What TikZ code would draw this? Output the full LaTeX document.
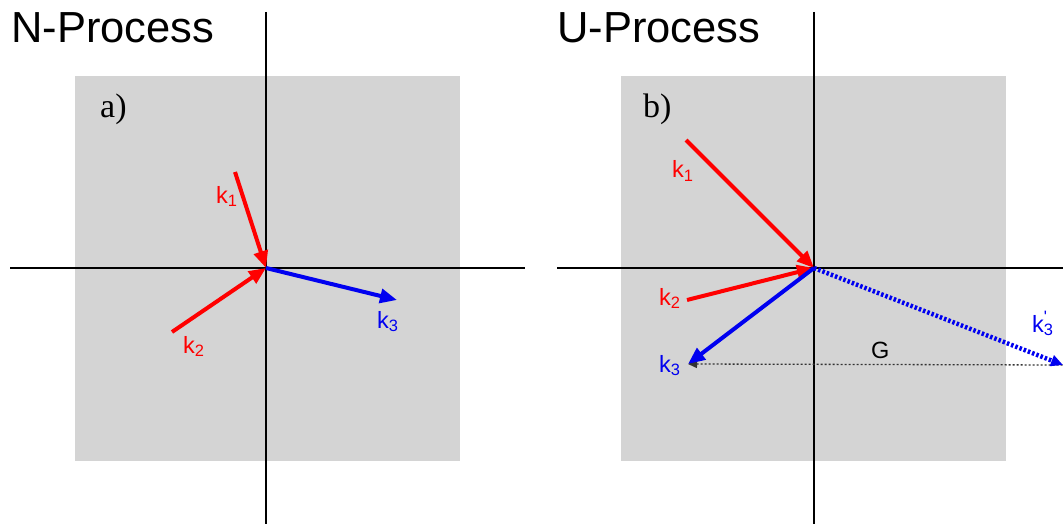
\documentclass[tikz,border=0pt]{standalone}
\usepackage{fontspec}
\setmainfont{Liberation Serif}
\setsansfont{Liberation Sans}
\usetikzlibrary{arrows.meta}
\definecolor{panelgrey}{RGB}{212,212,212}
\definecolor{kred}{RGB}{255,0,0}
\definecolor{kblue}{RGB}{0,0,240}
\tikzset{
  panel/.style={fill=panelgrey, draw=none},
  axis/.style={line width=2.3pt, black},
  vec/.style={line width=4pt, -{Triangle[length=17pt,width=14pt]}},
  redvec/.style={vec, kred},
  bluevec/.style={vec, kblue},
  umklapp/.style={line width=4.5pt, kblue, dash pattern=on 2.5pt off 2pt, -{Triangle[length=12pt,width=11pt]}},
  gline/.style={line width=1.3pt, black!80, dash pattern=on 2pt off 2pt, {Triangle[length=9pt,width=8pt]}-},
  ttl/.style={font=\sffamily\fontsize{43.5}{50}\selectfont, anchor=base west, inner sep=0pt},
  tag/.style={font=\rmfamily\fontsize{34}{38}\selectfont, anchor=base west, inner sep=0pt},
  lbl/.style={font=\sffamily\fontsize{23.5}{28}\selectfont, anchor=base west, inner sep=0pt},
}
\begin{document}
\begin{tikzpicture}[x=1pt,y=-1pt]
\useasboundingbox (0,0) rectangle (1063,524);
% ---------- left panel ----------
\fill[panel] (75,76) rectangle (460,461);
\coordinate (LT) at (266,12);
\coordinate (LB) at (266,524);
\coordinate (LL) at (10,268);
\coordinate (LR) at (525,268);
\coordinate (O1) at (266,268);
\draw[axis] (LT) -- (LB);
\draw[axis] (LL) -- (LR);
\node[ttl] (ntitle) at (11,43) {N-Process};
\node[tag] (atag) at (100,118) {a)};
\coordinate (A1) at (235,172);
\coordinate (A2) at (172,332);
\coordinate (A3) at (397,300);
\draw[redvec] (A1) -- (O1);
\draw[redvec] (A2) -- (O1);
\draw[bluevec] (O1) -- (A3);
\node[lbl, text=kred] (ak1) at (216,203) {k\textsubscript{1}};
\node[lbl, text=kred] (ak2) at (183,353) {k\textsubscript{2}};
\node[lbl, text=kblue] (ak3) at (377,328) {k\textsubscript{3}};
% ---------- right panel ----------
\fill[panel] (621,76) rectangle (1006,461);
\coordinate (RT) at (814,12);
\coordinate (RB) at (814,524);
\coordinate (RL) at (557,268);
\coordinate (RR) at (1063,268);
\coordinate (O2) at (814,268);
\draw[axis] (RT) -- (RB);
\draw[axis] (RL) -- (RR);
\node[ttl] (utitle) at (557,43) {U-Process};
\node[tag] (btag) at (643,118) {b)};
\coordinate (B1) at (686,140);
\coordinate (B2) at (687,300);
\coordinate (B3) at (688,364);
\coordinate (B4) at (1063,365);
\coordinate (GR) at (1063,365);
\draw[gline] (B3) -- (GR);
\draw[redvec] (B1) -- (O2);
\draw[redvec] (B2) -- (O2);
\draw[bluevec] (O2) -- (B3);
\draw[umklapp] (O2) -- (B4);
\node[lbl, text=kred] (bk1) at (672,178) {k\textsubscript{1}};
\node[lbl, text=kred] (bk2) at (659,305) {k\textsubscript{2}};
\node[lbl, text=kblue] (bk3) at (659,372) {k\textsubscript{3}};
\node[lbl, text=kblue] (bk3p) at (1032,332) {k\rlap{\textsuperscript{\textquotesingle}}\textsubscript{3}};
\node[lbl, text=black] (glbl) at (871,358) {G};
\end{tikzpicture}
\end{document}
